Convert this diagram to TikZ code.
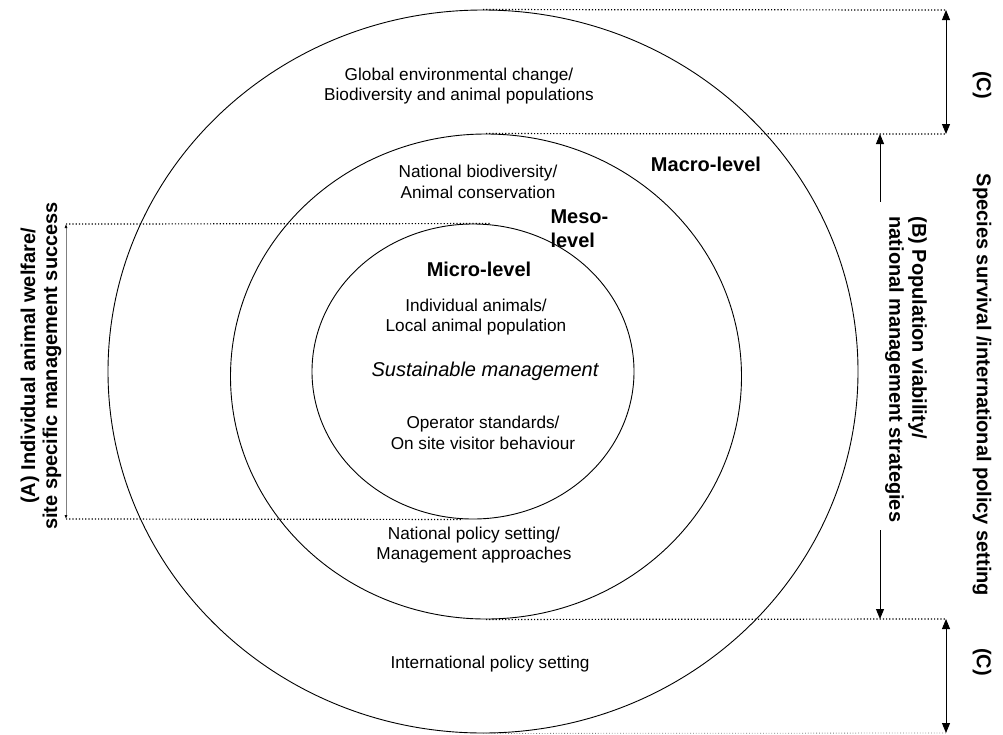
\documentclass[tikz,border=0pt]{standalone}
\usepackage{fontspec}
\setmainfont{Liberation Sans}
\usetikzlibrary{shapes.geometric,arrows.meta}

\begin{document}
\begin{tikzpicture}[x=1pt, y=-1pt,
    livello/.style={draw, ellipse, line width=0.9pt, inner sep=0pt},
    testo/.style={align=center, font=\fontsize{17.2}{20.5}\selectfont},
    titolo/.style={font=\fontsize{20}{24}\selectfont\bfseries},
    punti/.style={dotted, line width=1.2pt},
    freccia/.style={line width=0.9pt, {Triangle[length=10pt,width=8pt]}-{Triangle[length=10pt,width=8pt]}}]

    \useasboundingbox (0,0) rectangle (1003,734);

    % I tre livelli
    \node[livello, minimum width=750pt, minimum height=723pt] (macro) at (483,371.5) {};
    \node[livello, minimum width=511pt, minimum height=485pt] (meso) at (486,376.5) {};
    \node[livello, minimum width=322pt, minimum height=295pt] (micro) at (473,371.5) {};

    % Testi dentro i cerchi
    \node[testo] (globale) at (459,86) {Global environmental change/\\Biodiversity and animal populations};
    \node[testo] (nazbio) at (478,182) {National biodiversity/\\Animal conservation};
    \node[titolo] (macrot) at (706,164) {Macro-level};
    \node[titolo, align=left, anchor=west] (mesot) at (547,229) {Meso-\\level};
    \node[titolo] (microt) at (479,269) {Micro-level};
    \node[testo] (animali) at (476,317) {Individual animals/\\Local animal population};
    \node[font=\fontsize{20}{24}\selectfont\itshape] (sosten) at (485,371) {Sustainable management};
    \node[testo] (operatori) at (483,433) {Operator standards/\\On site visitor behaviour};
    \node[testo] (politica) at (474,545) {National policy setting/\\Management approaches};
    \node[testo] (internaz) at (490,664) {International policy setting};

    % Linee tratteggiate
    \coordinate (ctop) at (946,10);
    \coordinate (cmid) at (946,134);
    \coordinate (cbot) at (946,619);
    \coordinate (cfine) at (946,733);
    \coordinate (atop) at (66,224);
    \coordinate (abot) at (66,519);
    \draw[punti] (macro.north) -- (ctop);
    \draw[punti] (meso.north) -- (cmid);
    \draw[punti] (meso.south) -- (cbot);
    \draw[dotted, gray, line width=0.8pt] (macro.south) -- (cfine);
    \draw[punti] (atop) -- ([xshift=17pt]micro.north);
    \draw[punti] (abot) -- ([xshift=-10pt]micro.south);

    % Frecce (A), (B), (C)
    \draw[freccia] (ctop) -- (cmid);
    \draw[freccia] (cbot) -- (cfine);
    \coordinate (btop) at (880,134);
    \coordinate (bbot) at (880,619);
    \coordinate (bgap1) at (880,202);
    \coordinate (bgap2) at (880,530);
    \draw[freccia, {Triangle[length=10pt,width=8pt]}-] (btop) -- (bgap1);
    \draw[freccia, -{Triangle[length=10pt,width=8pt]}] (bgap2) -- (bbot);
    \draw[gray, line width=0.6pt, {Latex[length=4pt,width=3pt,black]}-{Latex[length=4pt,width=3pt,black]}] (atop) -- (abot);

    % Etichette ruotate
    \node[titolo, rotate=90, align=center, font=\fontsize{20}{22}\selectfont\bfseries] (etA) at (41,366)
        {(A) Individual animal welfare/\\site specific management success};
    \node[titolo, rotate=-90, align=left, anchor=west, font=\fontsize{20}{23}\selectfont\bfseries] (etB) at (906,213)
        {(B) Population viability/\\national management strategies};
    \node[titolo, rotate=-90] (etS) at (982,385) {Species survival /international policy setting};
    \node[titolo, rotate=-90] (etC1) at (982,85) {(C)};
    \node[titolo, rotate=-90] (etC2) at (982,662) {(C)};
\end{tikzpicture}
\end{document}
